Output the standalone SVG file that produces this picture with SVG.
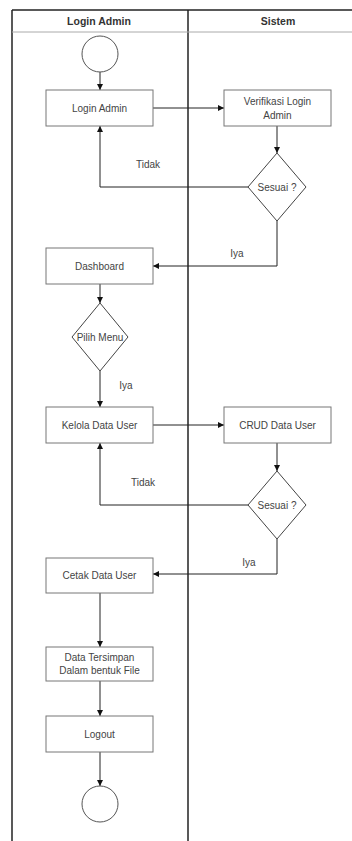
<svg xmlns="http://www.w3.org/2000/svg" width="352" height="841" viewBox="0 0 352 841">
<style>
.lane{stroke:#222;stroke-width:1.5;fill:none}
.hdr{stroke:#aaa;stroke-width:1;fill:none}
.box{fill:#fff;stroke:#777;stroke-width:1}
.dia{fill:#fff;stroke:#444;stroke-width:1}
.circ{fill:#fff;stroke:#555;stroke-width:1}
.t{font-family:"Liberation Sans",Arial,sans-serif;font-size:10px;fill:#444;text-anchor:middle;dominant-baseline:central}
.h{font-family:"Liberation Sans",Arial,sans-serif;font-size:10.5px;font-weight:bold;fill:#333;text-anchor:middle;dominant-baseline:central}
.c{stroke:#222;stroke-width:1;fill:none;marker-end:url(#arr)}
</style>
<defs>
<marker id="arr" viewBox="0 0 10 10" refX="10" refY="5" markerWidth="6" markerHeight="6" markerUnits="userSpaceOnUse" orient="auto">
<path d="M0,0 L10,5 L0,10 z" fill="#111"/>
</marker>
</defs>
<rect x="0" y="0" width="352" height="841" fill="#fff"/>
<g id="swimlanes">
<line class="lane" x1="12" y1="10" x2="352" y2="10"/>
<line class="lane" x1="12" y1="10" x2="12" y2="841"/>
<line class="lane" x1="188" y1="10" x2="188" y2="841"/>
<line class="hdr" x1="12" y1="32" x2="352" y2="32"/>
<text class="h" x="99" y="21">Login Admin</text>
<text class="h" x="278" y="21">Sistem</text>
</g>
<g id="connectors">
<line class="c" x1="100" y1="72" x2="100" y2="90"/>
<line class="c" x1="153" y1="108" x2="224" y2="108"/>
<line class="c" x1="277" y1="126" x2="277" y2="153"/>
<polyline class="c" points="248,187 100,187 100,126"/>
<polyline class="c" points="277,221 277,266 153,266"/>
<line class="c" x1="100" y1="284" x2="100" y2="303"/>
<line class="c" x1="100" y1="371" x2="100" y2="407"/>
<line class="c" x1="153" y1="425" x2="224" y2="425"/>
<line class="c" x1="277" y1="443" x2="277" y2="471"/>
<polyline class="c" points="248,505 100,505 100,443"/>
<polyline class="c" points="277,539 277,574 153,574"/>
<line class="c" x1="100" y1="593" x2="100" y2="647"/>
<line class="c" x1="100" y1="681" x2="100" y2="716"/>
<line class="c" x1="100" y1="752" x2="100" y2="786"/>
<text class="t" x="148" y="164">Tidak</text>
<text class="t" x="237" y="253">Iya</text>
<text class="t" x="126" y="385">Iya</text>
<text class="t" x="143" y="482">Tidak</text>
<text class="t" x="249" y="562">Iya</text>
</g>
<g id="start"><circle class="circ" cx="100" cy="54" r="18"/></g>
<g id="login-admin"><rect class="box" x="46" y="90" width="107" height="36"/><text class="t" x="99.5" y="108">Login Admin</text></g>
<g id="verifikasi"><rect class="box" x="224" y="90" width="107" height="36"/><text class="t" x="277.5" y="101">Verifikasi Login</text><text class="t" x="277.5" y="115">Admin</text></g>
<g id="sesuai1"><polygon class="dia" points="277,153 306,187 277,221 248,187"/><text class="t" x="277" y="187">Sesuai ?</text></g>
<g id="dashboard"><rect class="box" x="46" y="248" width="107" height="36"/><text class="t" x="99.5" y="266">Dashboard</text></g>
<g id="pilih-menu"><polygon class="dia" points="100,303 128,337 100,371 72,337"/><text class="t" x="100" y="337">Pilih Menu</text></g>
<g id="kelola"><rect class="box" x="46" y="407" width="107" height="36"/><text class="t" x="99.5" y="425">Kelola Data User</text></g>
<g id="crud"><rect class="box" x="224" y="407" width="107" height="36"/><text class="t" x="277.5" y="425">CRUD Data User</text></g>
<g id="sesuai2"><polygon class="dia" points="277,471 306,505 277,539 248,505"/><text class="t" x="277" y="505">Sesuai ?</text></g>
<g id="cetak"><rect class="box" x="46" y="558" width="107" height="35"/><text class="t" x="99.5" y="575">Cetak Data User</text></g>
<g id="tersimpan"><rect class="box" x="46" y="647" width="107" height="34"/><text class="t" x="99.5" y="657">Data Tersimpan</text><text class="t" x="99.5" y="670">Dalam bentuk File</text></g>
<g id="logout"><rect class="box" x="46" y="716" width="107" height="36"/><text class="t" x="99.5" y="734">Logout</text></g>
<g id="end"><circle class="circ" cx="100" cy="804" r="18"/></g>
</svg>
